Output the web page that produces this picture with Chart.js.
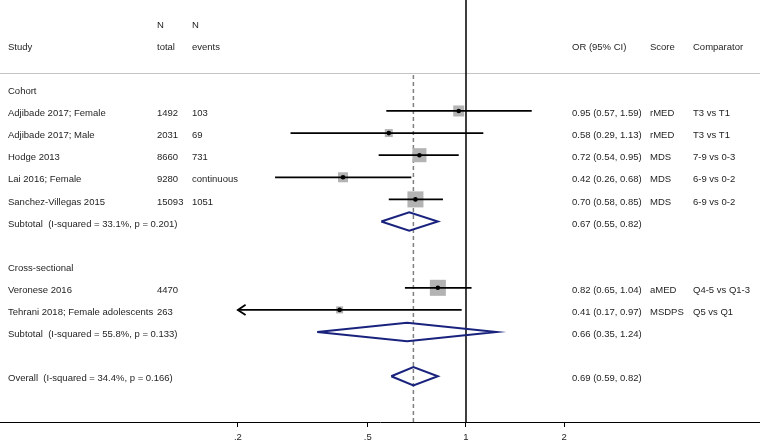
<!DOCTYPE html>
<html>
<head>
<meta charset="utf-8">
<script src="https://cdn.jsdelivr.net/npm/chart.js@4"></script>
<style>
  html, body { margin: 0; padding: 0; background: #fff; }
  canvas { display: block; }
</style>
</head>
<body>
<canvas id="forest" width="760" height="441"></canvas>
<script>
// study rows
const studyLabels = ['Adjibade 2017; Female', 'Adjibade 2017; Male', 'Hodge 2013', 'Lai 2016; Female',
  'Sanchez-Villegas 2015', 'Veronese 2016', 'Tehrani 2018; Female adolescents'];
const nTotal = ['1492', '2031', '8660', '9280', '15093', '4470', '263'];
const nEvents = ['103', '69', '731', 'continuous', '1051', '', ''];
const studyOR = [0.95, 0.58, 0.72, 0.42, 0.70, 0.82, 0.41];
const studyLo = [0.57, 0.29, 0.54, 0.26, 0.58, 0.65, 0.17];
const studyHi = [1.59, 1.13, 0.95, 0.68, 0.85, 1.04, 0.97];
const weights = [11.6, 6.1, 18.8, 9.6, 24.6, 24.6, 4.7]; // % weight, box area
const scores = ['rMED', 'rMED', 'MDS', 'MDS', 'MDS', 'aMED', 'MSDPS'];
const comparators = ['T3 vs T1', 'T3 vs T1', '7-9 vs 0-3', '6-9 vs 0-2', '6-9 vs 0-2', 'Q4-5 vs Q1-3', 'Q5 vs Q1'];
const studyRows = [4, 5, 6, 7, 8, 12, 13];

// pooled estimates
const pooledLabels = ['Subtotal  (I-squared = 33.1%, p = 0.201)', 'Subtotal  (I-squared = 55.8%, p = 0.133)',
  'Overall  (I-squared = 34.4%, p = 0.166)'];
const pooledOR = [0.67, 0.66, 0.69];
const pooledLo = [0.55, 0.35, 0.59];
const pooledHi = [0.82, 1.24, 0.82];
const pooledRows = [9, 14, 16];

const groupLabels = ['Cohort', 'Cross-sectional'];
const groupRows = [3, 11];

const tickValues = [0.2, 0.5, 1, 2];
const tickLabels = ['.2', '.5', '1', '2'];

// layout
const yMin = -1.02, yMax = 18.07;
const sepRow = 2.28;
const axisFloor = 0.2;
const navy = '#19237d';
const font = '9.5px "Liberation Sans", Arial, sans-serif';
const colX = { study: 8, total: 157, events: 192, or: 572, score: 650, comp: 693 };
const fmt = (e, l, h) => e.toFixed(2) + ' (' + l.toFixed(2) + ', ' + h.toFixed(2) + ')';

const line = (data, color, width, order, extra) => Object.assign({
  data, showLine: true, borderColor: color, borderWidth: width, pointRadius: 0, order
}, extra || {});

const datasets = [];
datasets.push(line([{x: 1, y: yMin}, {x: 1, y: yMax}], '#000', 1.5, 6));
datasets.push(line([{x: pooledOR[2], y: sepRow + 0.09}, {x: pooledOR[2], y: yMax}], '#808080', 1.5, 5,
  {borderDash: [4, 3]}));

pooledOR.forEach((est, i) => {
  const r = pooledRows[i], dh = 0.42;
  datasets.push(line([
    {x: pooledLo[i], y: r}, {x: est, y: r - dh}, {x: pooledHi[i], y: r},
    {x: est, y: r + dh}, {x: pooledLo[i], y: r}
  ], navy, 2, 4, {borderJoinStyle: 'miter'}));
});

const studyPoints = studyOR.map((v, i) => ({x: v, y: studyRows[i]}));
datasets.push({
  data: studyPoints, pointStyle: 'rect',
  pointRadius: weights.map(w => 3.23 * Math.sqrt(w) / Math.SQRT2),
  pointBackgroundColor: '#b3b3b3', pointBorderWidth: 0, showLine: false, order: 3
});

studyOR.forEach((v, i) => {
  const r = studyRows[i];
  const clipped = studyLo[i] < axisFloor;
  datasets.push(line([{x: clipped ? axisFloor : studyLo[i], y: r}, {x: studyHi[i], y: r}], '#000', 1.8, 2));
  if (clipped) {
    datasets.push(line([{x: axisFloor * 1.056, y: r - 0.23}, {x: axisFloor, y: r}, {x: axisFloor * 1.056, y: r + 0.23}],
      '#000', 1.8, 2));
  }
});

datasets.push({
  data: studyPoints, pointStyle: 'circle', pointRadius: 2.3,
  pointBackgroundColor: '#000', pointBorderWidth: 0, showLine: false, order: 1
});

const tablePlugin = {
  id: 'table',
  beforeDatasetsDraw(chart) {
    const ctx = chart.ctx, a = chart.chartArea;
    const py = Math.round(chart.scales.y.getPixelForValue(sepRow)) + 0.5;
    ctx.save();
    ctx.strokeStyle = '#c4c4c4';
    ctx.lineWidth = 1;
    ctx.beginPath();
    ctx.moveTo(a.left, py);
    ctx.lineTo(a.right, py);
    ctx.stroke();
    ctx.restore();
  },
  afterDraw(chart) {
    const ctx = chart.ctx, ys = chart.scales.y;
    ctx.save();
    ctx.font = font;
    ctx.fillStyle = '#1e1e1e';
    ctx.textBaseline = 'middle';
    const put = (t, col, row) => ctx.fillText(t, colX[col], ys.getPixelForValue(row) + 2.5);
    put('N', 'total', 0);
    put('N', 'events', 0);
    put('Study', 'study', 1);
    put('total', 'total', 1);
    put('events', 'events', 1);
    put('OR (95% CI)', 'or', 1);
    put('Score', 'score', 1);
    put('Comparator', 'comp', 1);
    groupLabels.forEach((g, i) => put(g, 'study', groupRows[i]));
    studyLabels.forEach((s, i) => {
      const r = studyRows[i];
      put(s, 'study', r);
      put(nTotal[i], 'total', r);
      put(nEvents[i], 'events', r);
      put(fmt(studyOR[i], studyLo[i], studyHi[i]), 'or', r);
      put(scores[i], 'score', r);
      put(comparators[i], 'comp', r);
    });
    pooledLabels.forEach((s, i) => {
      put(s, 'study', pooledRows[i]);
      put(fmt(pooledOR[i], pooledLo[i], pooledHi[i]), 'or', pooledRows[i]);
    });
    ctx.restore();
  }
};

new Chart(document.getElementById('forest'), {
  type: 'scatter',
  data: { datasets },
  options: {
    responsive: false,
    animation: false,
    layout: { padding: 0, autoPadding: false },
    plugins: { legend: { display: false }, tooltip: { enabled: false } },
    scales: {
      x: {
        type: 'logarithmic',
        min: 0.03735,
        max: 7.957,
        afterBuildTicks: s => { s.ticks = tickValues.map(v => ({value: v})); },
        afterFit: s => { s.height = 19; },
        border: { display: true, color: '#000', width: 1 },
        grid: { drawOnChartArea: false, drawTicks: true, tickLength: 5, color: '#000' },
        ticks: {
          autoSkip: false, maxRotation: 0, padding: 5, color: '#1e1e1e',
          font: { family: '"Liberation Sans", Arial, sans-serif', size: 9.5 },
          callback: v => tickLabels[tickValues.indexOf(v)]
        }
      },
      y: { type: 'linear', display: false, reverse: true, min: yMin, max: yMax }
    }
  },
  plugins: [tablePlugin]
});
</script>
</body>
</html>
